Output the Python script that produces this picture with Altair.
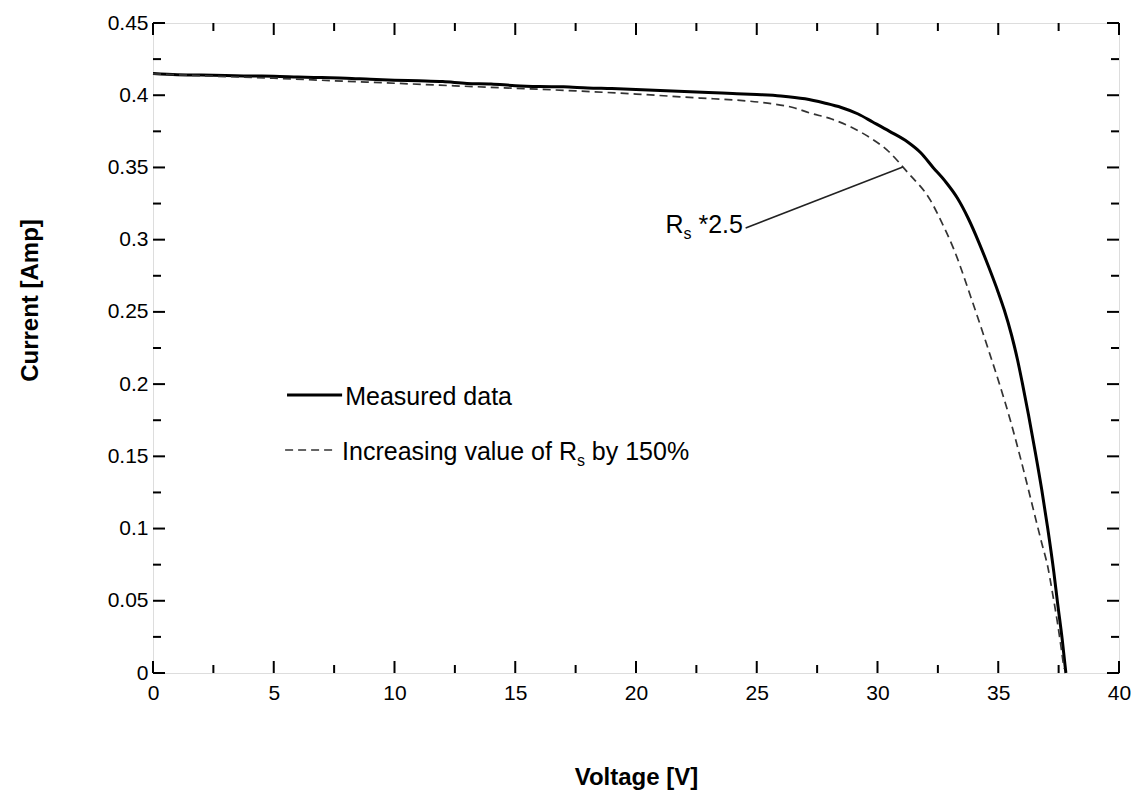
import altair as alt
import pandas as pd

# ---- data ----
meas_V = [0, 1, 2, 3, 4, 5, 6, 7, 8, 9, 10, 11, 12, 13, 14, 15, 16, 17, 18, 19, 20,
          21, 22, 23, 24, 25, 26, 27, 27.8, 28.5, 29.2, 29.8, 30.5, 31.25, 31.8, 32.3,
          32.8, 33.3, 33.75, 34.2, 34.63, 35.0, 35.25, 35.55, 35.8, 36.0, 36.25, 36.5,
          36.8, 37.05, 37.3, 37.46, 37.65, 37.8]
meas_I = [0.4150, 0.4142, 0.4140, 0.4137, 0.4133, 0.4132, 0.4126, 0.4122, 0.4118, 0.4110,
          0.4104, 0.4100, 0.4095, 0.4082, 0.4078, 0.4066, 0.4060, 0.4058, 0.4050, 0.4046,
          0.4040, 0.4032, 0.4026, 0.4018, 0.4012, 0.4005, 0.3995, 0.3975, 0.3946, 0.3915,
          0.3870, 0.3815, 0.3750, 0.3676, 0.3600, 0.3500, 0.3405, 0.3290, 0.3150, 0.2980,
          0.2800, 0.2635, 0.2513, 0.2340, 0.2167, 0.2005, 0.1790, 0.1560, 0.1270, 0.1000,
          0.0700, 0.0480, 0.0230, 0.0]

rs_V = [0, 2.5, 5, 7.5, 10, 12.5, 15, 17.5, 20, 22.7, 24, 25.45, 26.5, 27.2, 28.1, 28.9,
        29.7, 30.4, 31.25, 32.2, 32.6, 33.17, 33.87, 34.55, 35.04, 35.5, 35.94, 36.25,
        36.56, 36.8, 37.05, 37.25, 37.45, 37.6, 37.72]
rs_I = [0.4148, 0.4132, 0.4118, 0.4100, 0.4083, 0.4065, 0.4048, 0.4030, 0.4008, 0.3980,
        0.3968, 0.3945, 0.3915, 0.3877, 0.3835, 0.3780, 0.3705, 0.3620, 0.3465, 0.3270,
        0.3140, 0.2930, 0.2600, 0.2260, 0.2006, 0.1750, 0.1475, 0.1270, 0.1060, 0.0900,
        0.0736, 0.0550, 0.0350, 0.0180, 0.0030]

x_major = [0, 5, 10, 15, 20, 25, 30, 35, 40]
x_minor = [2.5, 7.5, 12.5, 17.5, 22.5, 27.5, 32.5, 37.5]
y_major = [0, 0.05, 0.1, 0.15, 0.2, 0.25, 0.3, 0.35, 0.4, 0.45]
y_minor = [0.025, 0.075, 0.125, 0.175, 0.225, 0.275, 0.325, 0.375, 0.425]

legend_labels = ["Measured data", "Increasing value of R", "s", "by 150%"]
annot_labels = ["R", "s", "*2.5"]

# ---- layout ----
W, H = 966, 650
FONT = "Liberation Sans"
TXT = 25

AW = {' ': 278, '*': 389, '.': 278, '%': 889, 'I': 278, 'R': 722, 'M': 833,
      'a': 556, 'b': 556, 'c': 500, 'd': 556, 'e': 556, 'f': 278, 'g': 556, 'i': 222,
      'l': 222, 'n': 556, 'o': 556, 'r': 333, 's': 500, 't': 278, 'u': 556, 'v': 500,
      'y': 500}


def tw(s, size):
    return sum(AW.get(c, 556) for c in s) / 1000 * size


xs = alt.Scale(domain=[0, 40], nice=False, zero=False)
ys = alt.Scale(domain=[0, 0.45], nice=False, zero=False)

xaxis = alt.Axis(values=x_major, ticks=False, domain=False, grid=False, labelFlush=False,
                 labelFont=FONT, labelFontSize=21, labelPadding=9, labelColor="black",
                 title="Voltage [V]", titleFont=FONT, titleFontSize=24,
                 titleFontWeight="bold", titleColor="black", titleX=W / 2, titleY=104,
                 titleBaseline="middle")
yaxis = alt.Axis(values=y_major, format=".2~f", ticks=False, domain=False, grid=False,
                 labelFlush=False,
                 labelFont=FONT, labelFontSize=21, labelPadding=5, labelColor="black",
                 title="Current [Amp]", titleFont=FONT, titleFontSize=24,
                 titleFontWeight="bold", titleColor="black", titleX=-123, titleY=277,
                 titleBaseline="middle")

meas = pd.DataFrame({"V": meas_V, "I": meas_I})
rs = pd.DataFrame({"V": rs_V, "I": rs_I})

line_meas = alt.Chart(meas).mark_line(color="black", strokeWidth=3,
                                      interpolate="monotone").encode(
    x=alt.X("V:Q", scale=xs, axis=xaxis),
    y=alt.Y("I:Q", scale=ys, axis=yaxis),
    order="V:Q")
line_rs = alt.Chart(rs).mark_line(color="#333333", strokeWidth=1.7, strokeDash=[8, 5],
                                  interpolate="monotone").encode(
    x=alt.X("V:Q", scale=xs), y=alt.Y("I:Q", scale=ys), order="V:Q")


# inward ticks on all four sides
def xticks(vals, length):
    d = pd.DataFrame({"V": vals})
    b = alt.Chart(d).mark_rule(color="black", strokeWidth=2).encode(
        x=alt.X("V:Q", scale=xs), y=alt.value(H), y2=alt.value(H - length))
    t = alt.Chart(d).mark_rule(color="black", strokeWidth=2).encode(
        x=alt.X("V:Q", scale=xs), y=alt.value(0), y2=alt.value(length))
    return [b, t]


def yticks(vals, length):
    d = pd.DataFrame({"I": vals})
    l = alt.Chart(d).mark_rule(color="black", strokeWidth=2).encode(
        y=alt.Y("I:Q", scale=ys), x=alt.value(0), x2=alt.value(length))
    r = alt.Chart(d).mark_rule(color="black", strokeWidth=2).encode(
        y=alt.Y("I:Q", scale=ys), x=alt.value(W), x2=alt.value(W - length))
    return [l, r]


ticks = xticks(x_major, 12) + xticks(x_minor, 8) + yticks(y_major, 12) + yticks(y_minor, 8)

# legend (inside plot)
leg_lines = pd.DataFrame({"V": [5.55, 7.83], "I": [0.1925, 0.1925]})
leg_dash = pd.DataFrame({"V": [5.47, 7.62], "I": [0.1544, 0.1544]})
leg1 = alt.Chart(leg_lines).mark_line(color="black", strokeWidth=3).encode(
    x=alt.X("V:Q", scale=xs), y=alt.Y("I:Q", scale=ys))
leg2 = alt.Chart(leg_dash).mark_line(color="#333333", strokeWidth=1.7,
                                     strokeDash=[8, 5]).encode(
    x=alt.X("V:Q", scale=xs), y=alt.Y("I:Q", scale=ys))

w_inc = tw(legend_labels[1], TXT)
w_sub = tw("s", 16)
w_sp = tw(" ", TXT)
leg_txt = pd.DataFrame({
    "V": [7.96, 7.83, 7.83, 7.83],
    "I": [0.1855, 0.1475, 0.1475, 0.1475],
    "label": legend_labels,
    "dx": [0, 0, w_inc, w_inc + w_sub + w_sp],
    "dy": [0, 0, 6, 0],
    "size": [TXT, TXT, 16, TXT],
})

w_R = tw("R", TXT)
ann_txt = pd.DataFrame({
    "V": [21.22, 21.22, 21.22],
    "I": [0.3046, 0.3046, 0.3046],
    "label": annot_labels,
    "dx": [0, w_R, w_R + w_sub + w_sp],
    "dy": [0, 6, 0],
    "size": [TXT, 16, TXT],
})
ann_line = pd.DataFrame({"V": [24.54, 31.05], "I": [0.3081, 0.3503]})
ann_rule = alt.Chart(ann_line).mark_line(color="#222222", strokeWidth=1.5).encode(
    x=alt.X("V:Q", scale=xs), y=alt.Y("I:Q", scale=ys))

texts = []
for df in (leg_txt, ann_txt):
    for _, r in df.iterrows():
        texts.append(
            alt.Chart(pd.DataFrame([r])).mark_text(
                align="left", baseline="alphabetic", font=FONT, fontSize=float(r["size"]),
                dx=float(r["dx"]), dy=float(r["dy"]), color="black").encode(
                x=alt.X("V:Q", scale=xs), y=alt.Y("I:Q", scale=ys), text="label:N"))

chart = alt.layer(line_meas, line_rs, *ticks, leg1, leg2, ann_rule, *texts).properties(
    width=W, height=H,
    autosize=alt.AutoSizeParams(type="none"),
    padding={"left": 153, "top": 23, "right": 16, "bottom": 120},
).configure_view(stroke="black", strokeWidth=2).configure(background="white")

chart.save("out.html", embed_options={"renderer": "svg", "actions": False})
